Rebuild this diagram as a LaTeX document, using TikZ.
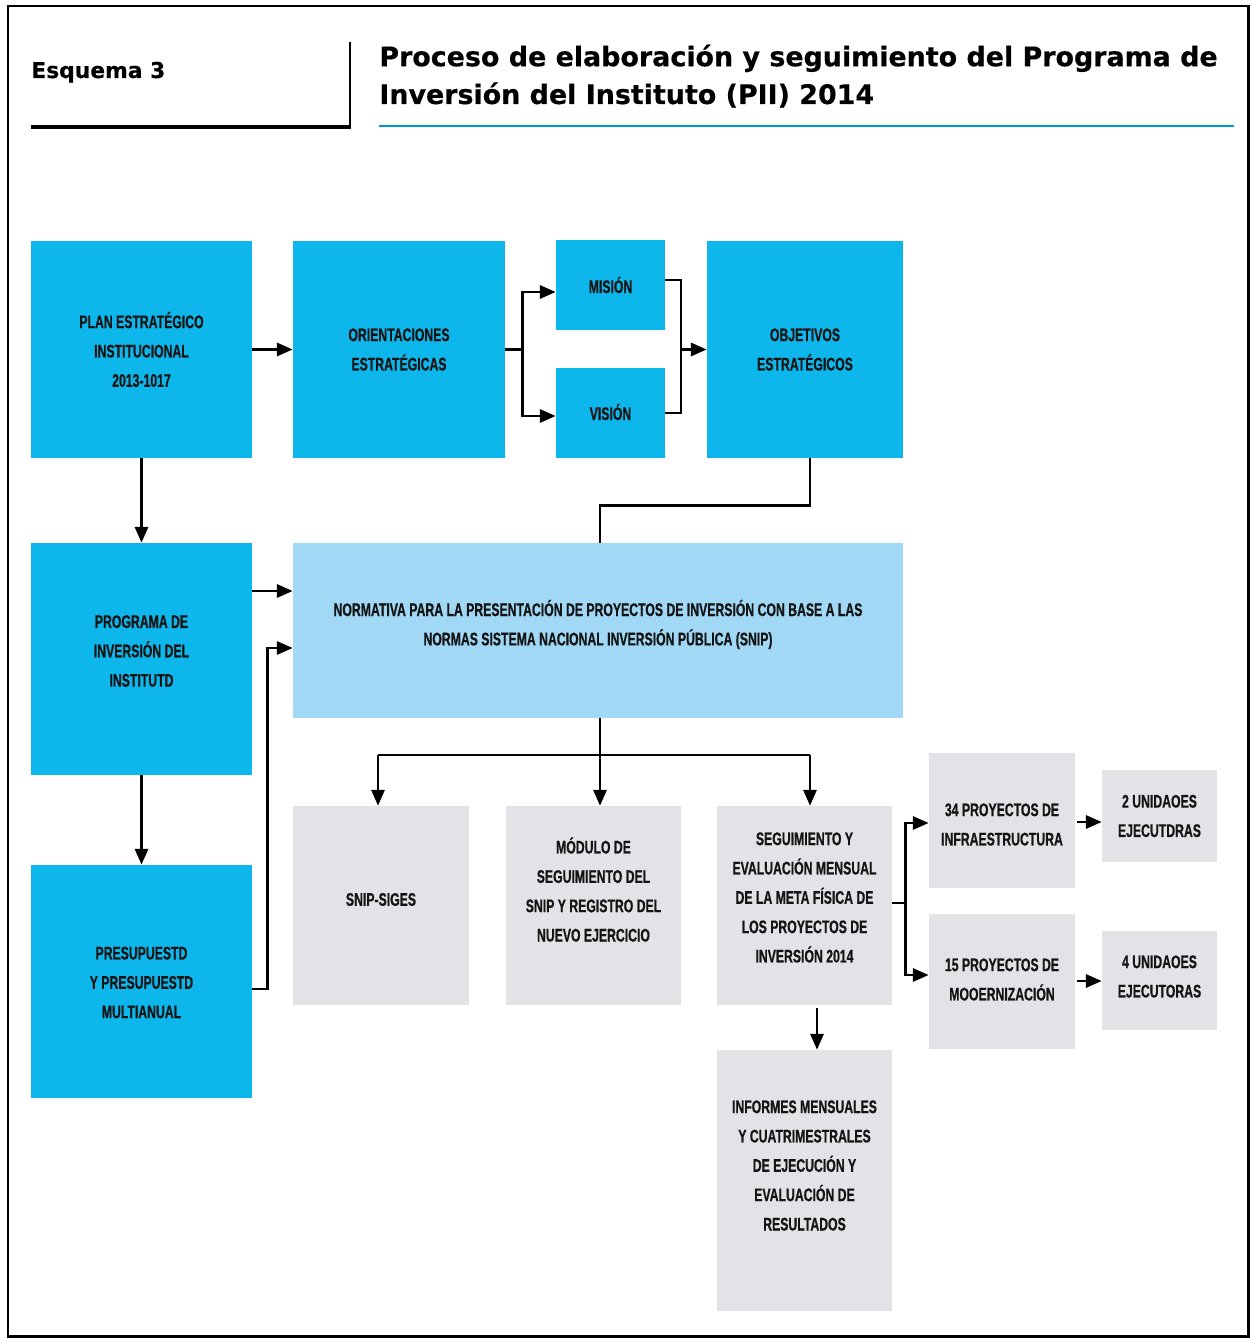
\documentclass[tikz,border=0pt]{standalone}
\usepackage{fontspec}
\setmainfont{Liberation Sans}
\newfontfamily\boxfont[FakeStretch=0.67,FakeBold=0.6]{Liberation Sans}
\newfontfamily\headfont[FakeBold=0.4]{DejaVu Sans}
\usetikzlibrary{arrows.meta}
\definecolor{cyanb}{RGB}{14,183,235}
\definecolor{lightb}{RGB}{160,216,245}
\definecolor{grayb}{RGB}{227,227,231}
\definecolor{titleb}{RGB}{0,150,214}
\definecolor{txt}{RGB}{20,20,20}
\tikzset{
  sz/.style 2 args={minimum width=#1*0.2mm, minimum height=#2*0.2mm},
  boxtext/.style={inner sep=0pt, align=center, text=txt,
    font=\boxfont\bfseries\fontsize{10.4}{16.7}\selectfont},
  tl/.style 2 args={label={[boxtext, yshift=#1*0.2mm]center:{#2}}},
  boxbase/.style={draw=none, inner sep=0pt},
  bluebox/.style={boxbase, fill=cyanb},
  lightbox/.style={boxbase, fill=lightb},
  graybox/.style={boxbase, fill=grayb},
  ln/.style={draw=black, line width=1.5pt},
  arr/.style={ln, -{Triangle[length=9pt,width=7.5pt]}},
}
\begin{document}
\begin{tikzpicture}[x=0.2mm,y=-0.2mm]
\useasboundingbox (0,0) rectangle (1252,1340);
\fill[white] (0,0) rectangle (1252,1340);
\draw[line width=1.7pt] (8,6) rectangle (1248,1336);

% header
\draw[line width=2.2pt] (31,127) -- (351,127);
\draw[line width=1.6pt] (350,42) -- (350,128);
\draw[titleb, line width=1.7pt] (379,126) -- (1234,126);
\node[anchor=base west, inner sep=0pt, font=\headfont\bfseries\fontsize{12.4}{15}\selectfont] (esq) at (31,78) {Esquema 3};
\node[anchor=base west, align=left, inner sep=0pt, font=\headfont\bfseries\fontsize{15.3}{21.5}\selectfont] (title) at (379,104) {Proceso de elaboración y seguimiento del Programa de\\Inversión del Instituto (PII) 2014};

% boxes
\node[bluebox, sz={221}{217}, tl={0}{PLAN ESTRATÉGICO\\INSTITUCIONAL\\2013-1017}] (plan) at (141.5,349.5) {};
\node[bluebox, sz={212}{217}, tl={0}{ORIENTACIONES\\ESTRATÉGICAS}] (orient) at (399,349.5) {};
\node[bluebox, sz={109}{90}, tl={0}{MISIÓN}] (mision) at (610.5,285) {};
\node[bluebox, sz={109}{90}, tl={1}{VISIÓN}] (vision) at (610.5,413) {};
\node[bluebox, sz={196}{217}, tl={0}{OBJETIVOS\\ESTRATÉGICOS}] (obj) at (805,349.5) {};
\node[bluebox, sz={221}{232}, tl={8}{PROGRAMA DE\\INVERSIÓN DEL\\INSTITUTD}] (prog) at (141.5,659) {};
\node[lightbox, sz={610}{175}, tl={6}{NORMATIVA PARA LA PRESENTACIÓN DE PROYECTOS DE INVERSIÓN CON BASE A LAS\\NORMAS SISTEMA NACIONAL INVERSIÓN PÚBLICA (SNIP)}] (norm) at (598,630.5) {};
\node[bluebox, sz={221}{233}, tl={-1}{PRESUPUESTD\\Y PRESUPUESTD\\MULTIANUAL}] (pres) at (141.5,981.5) {};
\node[graybox, sz={176}{199}, tl={6}{SNIP-SIGES}] (snip) at (381,905.5) {};
\node[graybox, sz={175}{199}, tl={16}{MÓDULO DE\\SEGUIMIENTO DEL\\SNIP Y REGISTRO DEL\\NUEVO EJERCICIO}] (mod) at (593.5,905.5) {};
\node[graybox, sz={175}{199}, tl={8}{SEGUIMIENTO Y\\EVALUACIÓN MENSUAL\\DE LA META FÍSICA DE\\LOS PROYECTOS DE\\INVERSIÓN 2014}] (seg) at (804.5,905.5) {};
\node[graybox, sz={146}{135}, tl={-4}{34 PROYECTOS DE\\INFRAESTRUCTURA}] (p34) at (1002,820.5) {};
\node[graybox, sz={146}{135}, tl={2}{15 PROYECTOS DE\\MOOERNIZACIÓN}] (p15) at (1002,981.5) {};
\node[graybox, sz={115}{92}, tl={0}{2 UNIDAOES\\EJECUTDRAS}] (u2) at (1159.5,816) {};
\node[graybox, sz={115}{99}, tl={4}{4 UNIDAOES\\EJECUTORAS}] (u4) at (1159.5,980.5) {};
\node[graybox, sz={175}{261}, tl={15}{INFORMES MENSUALES\\Y CUATRIMESTRALES\\DE EJECUCIÓN Y\\EVALUACIÓN DE\\RESULTADOS}] (inf) at (804.5,1180.5) {};

% helper coordinates
\coordinate (ha) at (0,591);
\coordinate (hb) at (0,989);
\coordinate (hc) at (0,648);
\coordinate (hd) at (0,755);
\coordinate (hm) at (0,292);
\coordinate (hv) at (0,416);
\coordinate (hm2) at (0,280);
\coordinate (hv2) at (0,413);
\coordinate (xo) at (810,0);
\coordinate (xn) at (600,0);
\coordinate (xs) at (378,0);
\coordinate (hs) at (0,903);
\coordinate (h34) at (0,823);
\coordinate (h15) at (0,975);
\coordinate (hu2) at (0,822);
\coordinate (hu4) at (0,981);
\coordinate (xi) at (817,0);

% connectors
\draw[arr] (plan) -- (orient);
\draw[ln] (orient.east) -- ++(17,0) coordinate (j1);
\draw[arr] (j1) |- (mision.west |- hm);
\draw[arr] (j1) |- (vision.west |- hv);
\coordinate (j2) at (681,349.5);
\draw[ln] (mision.east |- hm2) -| (j2);
\draw[ln] (vision.east |- hv2) -| (j2);
\draw[arr] (j2) -- (obj.west);
\draw[ln] (obj.south -| xo) -- ++(0,47) -| (norm.north -| xn);
\draw[arr] (plan) -- (prog);
\draw[arr] (prog) -- (pres);
\draw[arr] (prog.east |- ha) -- (norm.west |- ha);
\draw[arr] (pres.east |- hb) -- ++(15,0) |- (norm.west |- hc);
\draw[ln] (norm.south -| xn) -- (xn |- hd);
\draw[ln] (xs |- hd) -- (xo |- hd);
\draw[arr] (xs |- hd) -- (snip.north -| xs);
\draw[arr] (xn |- hd) -- (mod.north -| xn);
\draw[arr] (xo |- hd) -- (seg.north -| xo);
\draw[ln] (seg.east |- hs) -- ++(13,0) coordinate (j4);
\draw[arr] (j4) |- (p34.west |- h34);
\draw[arr] (j4) |- (p15.west |- h15);
\draw[arr] ([xshift=0.4mm]p34.east |- hu2) -- (u2.west |- hu2);
\draw[arr] ([xshift=0.4mm]p15.east |- hu4) -- (u4.west |- hu4);
\draw[arr] ([yshift=-0.6mm]seg.south -| xi) -- (inf.north -| xi);
\end{tikzpicture}
\end{document}
